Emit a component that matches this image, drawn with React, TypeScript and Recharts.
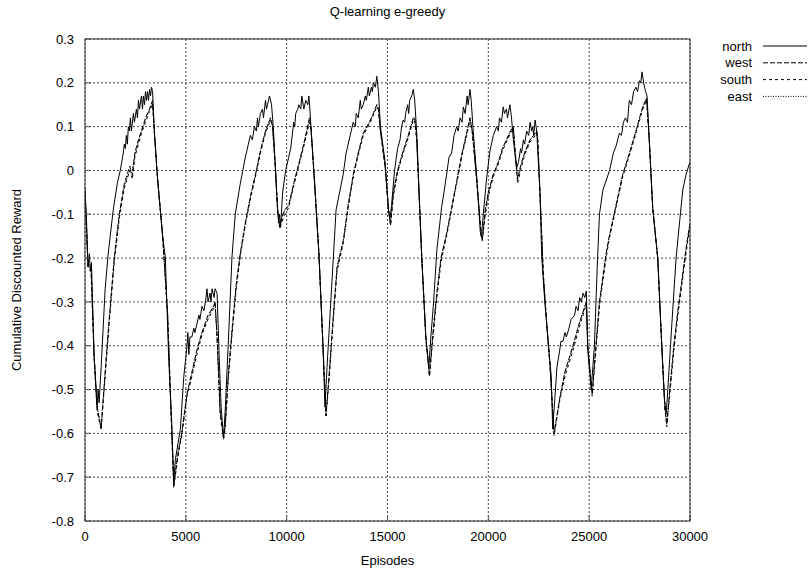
import React from 'react';
import { LineChart, Line, XAxis, YAxis, CartesianGrid, Legend } from 'recharts';

const northEp = [
  0, 80, 150, 220, 260, 320, 450, 550, 600, 650, 700, 800, 1000, 1150, 1400, 1600, 1750, 1900, 1950, 2000,
  2050, 2100, 2150, 2200, 2250, 2300, 2400, 2450, 2550, 2600, 2650, 2700, 2800, 2850, 2900, 2950, 3000, 3050, 3100, 3150,
  3200, 3250, 3300, 3350, 3450, 3600, 3850, 3985, 4150, 4310, 4400, 4480, 4730, 4900, 5060, 5100, 5150, 5200, 5300, 5400,
  5450, 5550, 5650, 5700, 5800, 5900, 6000, 6050, 6100, 6200, 6250, 6300, 6400, 6450, 6550, 6650, 6750, 6870, 6950, 7100,
  7285, 7450, 7700, 7950, 8100, 8200, 8300, 8400, 8500, 8550, 8600, 8700, 8800, 8850, 8950, 9000, 9050, 9150, 9250, 9350,
  9500, 9600, 9650, 9700, 9800, 9950, 10100, 10200, 10300, 10350, 10400, 10450, 10550, 10600, 10700, 10750, 10850, 10950, 11050, 11100,
  11150, 11300, 11600, 11800, 11900, 12000, 12200, 12450, 12800, 12950, 13150, 13300, 13400, 13450, 13550, 13650, 13700, 13800, 13900, 13950,
  14050, 14100, 14200, 14250, 14300, 14400, 14470, 14550, 14650, 14880, 15050, 15120, 15200, 15350, 15500, 15620, 15700, 15780, 15850, 15900,
  16000, 16050, 16100, 16200, 16280, 16350, 16450, 16700, 16900, 17050, 17150, 17270, 17450, 17680, 17800, 17930, 18050, 18180, 18300, 18430,
  18500, 18600, 18700, 18760, 18850, 18950, 19000, 19090, 19150, 19250, 19420, 19600, 19660, 19750, 19910, 20080, 20250, 20410, 20500, 20550,
  20650, 20740, 20800, 20900, 20950, 21070, 21150, 21240, 21400, 21500, 21600, 21650, 21740, 21800, 21900, 22000, 22070, 22150, 22200, 22250,
  22320, 22400, 22560, 22650, 22800, 23000, 23120, 23190, 23300, 23400, 23540, 23600, 23700, 23800, 23870, 24000, 24100, 24200, 24280, 24350,
  24450, 24530, 24610, 24700, 24780, 24860, 24930, 25100, 25260, 25400, 25510, 25680, 26010, 26200, 26330, 26500, 26600, 26700, 26800, 26900,
  26990, 27100, 27200, 27320, 27400, 27490, 27560, 27620, 27700, 27800, 27870, 27980, 28150, 28400, 28600, 28740, 28820, 28900, 29100, 29310,
  29500, 29640, 29800, 30000,
];
const northV = [
  -0.04, -0.12, -0.22, -0.19, -0.23, -0.21, -0.42, -0.5, -0.54, -0.5, -0.53, -0.45, -0.27, -0.19, -0.09, -0.03, 0.0, 0.04, 0.06, 0.05,
  0.08, 0.06, 0.1, 0.09, 0.12, 0.09, 0.13, 0.11, 0.14, 0.12, 0.16, 0.14, 0.17, 0.14, 0.17, 0.15, 0.18, 0.16, 0.18, 0.16,
  0.185, 0.17, 0.19, 0.18, 0.08, -0.02, -0.15, -0.2, -0.43, -0.585, -0.71, -0.66, -0.59, -0.47, -0.4, -0.37, -0.42, -0.38, -0.38, -0.36,
  -0.37, -0.35, -0.33, -0.34, -0.31, -0.32, -0.29, -0.27, -0.3, -0.28, -0.3, -0.27, -0.29, -0.27, -0.28, -0.42, -0.54, -0.61, -0.55, -0.4,
  -0.2, -0.1, -0.03, 0.03, 0.06, 0.08, 0.07, 0.1, 0.09, 0.12, 0.1, 0.13, 0.14, 0.12, 0.16, 0.14, 0.15, 0.17, 0.15, 0.09,
  -0.05, -0.12, -0.1, -0.13, -0.05, 0.0, 0.03, 0.05, 0.09, 0.11, 0.1, 0.13, 0.14, 0.15, 0.14, 0.17, 0.14, 0.16, 0.15, 0.17,
  0.14, 0.03, -0.19, -0.4, -0.54, -0.45, -0.29, -0.09, -0.01, 0.04, 0.08, 0.11, 0.1, 0.13, 0.12, 0.16, 0.14, 0.15, 0.17, 0.16,
  0.19, 0.17, 0.19, 0.18, 0.2, 0.19, 0.215, 0.18, 0.1, 0.02, -0.09, -0.11, -0.08, 0.0, 0.05, 0.07, 0.1, 0.115, 0.11, 0.13,
  0.15, 0.13, 0.16, 0.17, 0.185, 0.16, 0.085, -0.2, -0.38, -0.45, -0.38, -0.31, -0.18, -0.085, -0.05, -0.01, 0.03, 0.04, 0.08, 0.1,
  0.09, 0.12, 0.11, 0.145, 0.13, 0.17, 0.15, 0.185, 0.16, 0.09, -0.01, -0.14, -0.15, -0.1, -0.02, 0.045, 0.08, 0.1, 0.09, 0.12,
  0.11, 0.145, 0.13, 0.14, 0.12, 0.15, 0.12, 0.07, 0.005, 0.02, 0.05, 0.04, 0.07, 0.06, 0.09, 0.08, 0.11, 0.09, 0.1, 0.08,
  0.115, 0.09, -0.05, -0.2, -0.3, -0.41, -0.47, -0.59, -0.52, -0.45, -0.41, -0.39, -0.39, -0.37, -0.38, -0.36, -0.34, -0.335, -0.33, -0.31,
  -0.32, -0.29, -0.3, -0.28, -0.29, -0.275, -0.41, -0.5, -0.4, -0.22, -0.1, -0.045, 0.0, 0.04, 0.055, 0.085, 0.08, 0.11, 0.12, 0.11,
  0.16, 0.15, 0.18, 0.19, 0.18, 0.205, 0.2, 0.225, 0.2, 0.18, 0.17, 0.07, -0.085, -0.2, -0.4, -0.525, -0.555, -0.5, -0.35, -0.2,
  -0.11, -0.045, -0.01, 0.02,
];

const othersEp = [
  0, 150, 300, 450, 600, 800, 1000, 1200, 1450, 1700, 1950, 2220, 2350, 2470, 2650, 2800, 3000, 3200, 3350, 3450,
  3600, 3850, 4100, 4250, 4400, 4600, 4800, 5060, 5300, 5550, 5800, 6100, 6380, 6450, 6550, 6700, 6870, 6950, 7100, 7300,
  7500, 7700, 7950, 8200, 8450, 8700, 8950, 9200, 9300, 9450, 9550, 9650, 9750, 9900, 10100, 10350, 10600, 10850, 11130, 11200,
  11350, 11600, 11800, 11950, 12100, 12300, 12500, 12810, 13050, 13300, 13550, 13800, 14100, 14300, 14470, 14550, 14650, 14880, 15050, 15150,
  15290, 15500, 15780, 16000, 16280, 16350, 16450, 16700, 16900, 17080, 17200, 17400, 17650, 17930, 18200, 18430, 18700, 18900, 19090, 19200,
  19420, 19650, 19700, 19850, 20000, 20240, 20500, 20700, 20900, 21100, 21240, 21300, 21450, 21600, 21800, 22070, 22250, 22400, 22450, 22560,
  22730, 22880, 23050, 23260, 23400, 23540, 23800, 24000, 24200, 24500, 24860, 24930, 25150, 25300, 25510, 25840, 26000, 26330, 26660, 27000,
  27320, 27500, 27660, 27750, 27850, 27980, 28150, 28400, 28600, 28750, 28850, 29000, 29200, 29400, 29600, 29800, 30000,
];
const westV = [
  -0.05, -0.22, -0.22, -0.42, -0.54, -0.59, -0.46, -0.34, -0.2, -0.1, -0.03, 0.01, -0.01, 0.04, 0.07, 0.09, 0.12, 0.14, 0.16, 0.08,
  -0.02, -0.15, -0.33, -0.53, -0.72, -0.65, -0.6, -0.51, -0.46, -0.41, -0.37, -0.33, -0.31, -0.3, -0.38, -0.55, -0.61, -0.58, -0.47, -0.36,
  -0.26, -0.19, -0.12, -0.06, -0.01, 0.045, 0.09, 0.12, 0.1, 0.0, -0.09, -0.13, -0.11, -0.09, -0.08, -0.03, 0.015, 0.06, 0.12, 0.1,
  0.0, -0.19, -0.4, -0.56, -0.47, -0.34, -0.22, -0.16, -0.08, -0.01, 0.04, 0.085, 0.11, 0.13, 0.15, 0.14, 0.09, 0.01, -0.09, -0.125,
  -0.05, 0.0, 0.045, 0.075, 0.12, 0.12, 0.07, -0.2, -0.38, -0.47, -0.4, -0.3, -0.2, -0.145, -0.08, -0.025, 0.04, 0.08, 0.12, 0.09,
  -0.02, -0.15, -0.16, -0.09, -0.05, -0.01, 0.02, 0.05, 0.07, 0.09, 0.1, 0.06, -0.02, 0.01, 0.04, 0.07, 0.08, 0.09, 0.07, -0.05,
  -0.24, -0.34, -0.44, -0.6, -0.56, -0.52, -0.46, -0.43, -0.4, -0.35, -0.3, -0.4, -0.51, -0.42, -0.3, -0.19, -0.15, -0.08, -0.01, 0.04,
  0.09, 0.12, 0.145, 0.155, 0.165, 0.07, -0.085, -0.2, -0.4, -0.54, -0.58, -0.5, -0.4, -0.32, -0.25, -0.18, -0.12,
];
const southV = [
  -0.05, -0.22, -0.23, -0.43, -0.55, -0.59, -0.47, -0.35, -0.21, -0.11, -0.04, 0.0, -0.02, 0.03, 0.06, 0.085, 0.11, 0.135, 0.15, 0.08,
  -0.02, -0.15, -0.33, -0.53, -0.725, -0.655, -0.605, -0.515, -0.47, -0.42, -0.375, -0.34, -0.315, -0.305, -0.38, -0.55, -0.615, -0.59, -0.48, -0.37,
  -0.27, -0.195, -0.125, -0.065, -0.015, 0.04, 0.085, 0.115, 0.1, 0.0, -0.09, -0.13, -0.12, -0.1, -0.085, -0.035, 0.01, 0.055, 0.11, 0.1,
  0.0, -0.19, -0.4, -0.56, -0.48, -0.35, -0.23, -0.165, -0.085, -0.015, 0.035, 0.08, 0.105, 0.125, 0.145, 0.14, 0.09, 0.01, -0.09, -0.125,
  -0.06, -0.005, 0.04, 0.07, 0.115, 0.115, 0.07, -0.2, -0.38, -0.47, -0.41, -0.31, -0.21, -0.15, -0.085, -0.03, 0.035, 0.075, 0.115, 0.09,
  -0.02, -0.15, -0.16, -0.1, -0.06, -0.015, 0.015, 0.045, 0.065, 0.085, 0.095, 0.06, -0.03, 0.0, 0.035, 0.065, 0.075, 0.085, 0.07, -0.05,
  -0.24, -0.34, -0.44, -0.605, -0.565, -0.525, -0.47, -0.44, -0.41, -0.36, -0.305, -0.4, -0.515, -0.43, -0.31, -0.2, -0.155, -0.085, -0.015, 0.035,
  0.085, 0.115, 0.14, 0.15, 0.16, 0.07, -0.085, -0.2, -0.4, -0.54, -0.585, -0.51, -0.41, -0.33, -0.26, -0.19, -0.125,
];
const eastV = [
  -0.05, -0.21, -0.22, -0.42, -0.54, -0.585, -0.46, -0.34, -0.2, -0.1, -0.035, 0.0, 0.0, 0.035, 0.065, 0.09, 0.115, 0.14, 0.155, 0.08,
  -0.02, -0.15, -0.33, -0.53, -0.715, -0.645, -0.595, -0.51, -0.465, -0.41, -0.37, -0.335, -0.31, -0.3, -0.38, -0.55, -0.61, -0.58, -0.47, -0.36,
  -0.26, -0.19, -0.12, -0.06, -0.01, 0.045, 0.09, 0.12, 0.1, 0.0, -0.09, -0.125, -0.11, -0.09, -0.08, -0.03, 0.015, 0.06, 0.115, 0.1,
  0.0, -0.19, -0.4, -0.555, -0.47, -0.34, -0.22, -0.16, -0.08, -0.01, 0.04, 0.085, 0.11, 0.13, 0.15, 0.14, 0.09, 0.01, -0.09, -0.12,
  -0.05, 0.0, 0.045, 0.075, 0.12, 0.12, 0.07, -0.2, -0.38, -0.465, -0.4, -0.3, -0.2, -0.145, -0.08, -0.025, 0.04, 0.08, 0.12, 0.09,
  -0.02, -0.15, -0.155, -0.09, -0.05, -0.01, 0.02, 0.05, 0.07, 0.09, 0.1, 0.06, -0.02, 0.01, 0.04, 0.07, 0.08, 0.09, 0.07, -0.05,
  -0.24, -0.34, -0.44, -0.6, -0.56, -0.52, -0.46, -0.43, -0.4, -0.35, -0.3, -0.4, -0.51, -0.42, -0.3, -0.19, -0.15, -0.08, -0.01, 0.04,
  0.09, 0.12, 0.145, 0.155, 0.165, 0.07, -0.085, -0.2, -0.4, -0.54, -0.575, -0.5, -0.4, -0.32, -0.25, -0.18, -0.12,
];

const xTicks = [0, 5000, 10000, 15000, 20000, 25000, 30000];
const yTicks = [0.3, 0.2, 0.1, 0, -0.1, -0.2, -0.3, -0.4, -0.5, -0.6, -0.7, -0.8];

const title = 'Q-learning e-greedy';
const xLabel = 'Episodes';
const yLabel = 'Cumulative Discounted Reward';

const zip = (eps: number[], vs: number[]) => eps.map((ep, i) => ({ ep, v: vs[i] }));

const series = [
  { name: 'north', data: zip(northEp, northV), dash: undefined as string | undefined },
  { name: 'west', data: zip(othersEp, westV), dash: '5 2' },
  { name: 'south', data: zip(othersEp, southV), dash: '3 3' },
  { name: 'east', data: zip(othersEp, eastV), dash: '1 1.5' },
];

const FONT = '"Liberation Sans", Arial, Helvetica, sans-serif';
const tickStyle = { fontSize: 13, fill: '#000', fontFamily: FONT };

const LegendBox = () => (
  <svg width={111} height={72} style={{ display: 'block', fontFamily: FONT }}>
    {series.map((s, i) => {
      const y = 9 + i * 16.8;
      return (
        <g key={s.name}>
          <text x={52} y={y} textAnchor="end" dominantBaseline="central" fontSize={13} fill="#000">
            {s.name}
          </text>
          <line x1={63} x2={107} y1={y} y2={y} stroke="#000" strokeWidth={1} strokeDasharray={s.dash} />
        </g>
      );
    })}
  </svg>
);

const YLabel = (props: any) => {
  const vb = props.viewBox || {};
  const cx = vb.x - 9;
  const cy = vb.y + vb.height / 2;
  return (
    <text
      x={cx}
      y={cy}
      transform={`rotate(-90 ${cx} ${cy})`}
      textAnchor="middle"
      dominantBaseline="central"
      fontSize={13}
      fontFamily={FONT}
      fill="#000"
    >
      {yLabel}
    </text>
  );
};

const EmptyTick = () => <g />;

export default function App() {
  return (
    <div style={{ position: 'absolute', left: 0, top: 0, background: '#fff' }}>
      <LineChart width={811} height={575} margin={{ top: 29, right: 111, bottom: 24, left: 25 }}>
        <CartesianGrid stroke="#444" strokeDasharray="2 2" strokeWidth={1} />
        <XAxis
          dataKey="ep"
          type="number"
          domain={[0, 30000]}
          ticks={xTicks}
          height={30}
          tickSize={-6}
          tickMargin={17}
          tick={tickStyle}
          stroke="#333"
          tickLine={{ stroke: '#555' }}
          allowDataOverflow
          label={{ value: xLabel, position: 'bottom', offset: 5, fontSize: 13, fill: '#000', fontFamily: FONT }}
        />
        <XAxis
          xAxisId="top"
          orientation="top"
          type="number"
          domain={[0, 30000]}
          ticks={xTicks}
          height={10}
          tickSize={-6}
          tick={EmptyTick}
          stroke="#333"
          tickLine={{ stroke: '#555' }}
          label={{ value: title, position: 'top', offset: 13, fontSize: 13, fill: '#000', fontFamily: FONT }}
        />
        <YAxis
          type="number"
          domain={[-0.8, 0.3]}
          ticks={yTicks}
          width={60}
          tickSize={-6}
          tickMargin={17}
          tick={tickStyle}
          stroke="#333"
          tickLine={{ stroke: '#555' }}
          allowDataOverflow
          label={<YLabel />}
        />
        <YAxis
          yAxisId="right"
          orientation="right"
          type="number"
          domain={[-0.8, 0.3]}
          ticks={yTicks}
          width={10}
          tickSize={-6}
          tick={EmptyTick}
          stroke="#333"
          tickLine={{ stroke: '#555' }}
        />
        <Legend
          layout="vertical"
          align="center"
          verticalAlign="middle"
          content={() => <LegendBox />}
          wrapperStyle={{ left: 700, top: 37, width: 111, height: 72 }}
        />
        {series.map((s) => (
          <Line
            key={s.name}
            data={s.data}
            dataKey="v"
            name={s.name}
            type="linear"
            stroke="#000"
            strokeWidth={1}
            strokeDasharray={s.dash}
            dot={false}
            activeDot={false}
            isAnimationActive={false}
          />
        ))}
      </LineChart>
    </div>
  );
}
